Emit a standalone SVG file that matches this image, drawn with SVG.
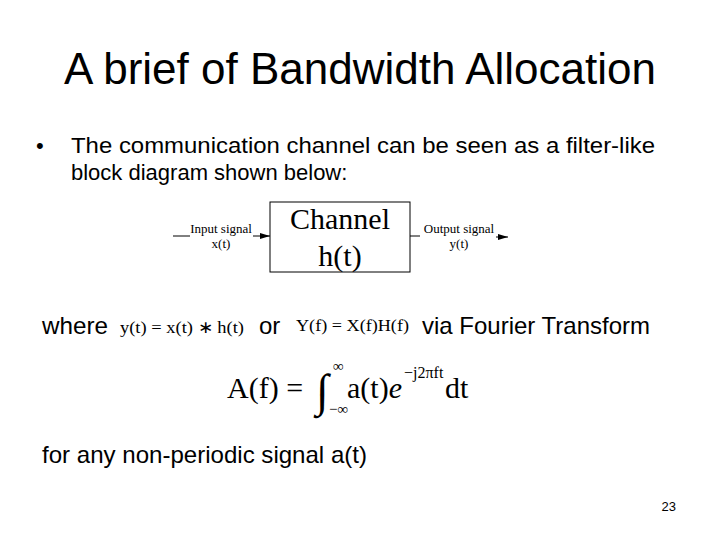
<svg xmlns="http://www.w3.org/2000/svg" width="720" height="540" viewBox="0 0 720 540">
<style>
.s{font-family:"Liberation Sans",Arial,sans-serif;fill:#000}
.m{font-family:"Liberation Serif","Times New Roman",serif;fill:#000}
</style>
<defs><marker id="a" markerWidth="10" markerHeight="6" refX="10" refY="3" orient="auto" markerUnits="userSpaceOnUse"><path d="M0,0 L10,3 L0,6z" fill="#000"/></marker></defs>
<rect width="720" height="540" fill="#fff"/>
<text class="s" x="360" y="84" font-size="44" text-anchor="middle">A brief of Bandwidth Allocation</text>
<text class="s" x="36" y="153" font-size="22">•</text>
<text class="s" x="71" y="153" font-size="22" textLength="584" lengthAdjust="spacingAndGlyphs">The communication channel can be seen as a filter-like</text>
<text class="s" x="71" y="180" font-size="22">block diagram shown below:</text>
<g id="channel"><rect x="270" y="202" width="140" height="70" fill="#fff" stroke="#000" stroke-width="1"/>
<text class="m" x="340" y="229" font-size="30" text-anchor="middle">Channel</text>
<text class="m" x="340" y="266" font-size="30" text-anchor="middle">h(t)</text></g>
<g id="input"><text class="m" x="221" y="233" font-size="13" text-anchor="middle">Input signal</text><text class="m" x="221" y="248" font-size="13" text-anchor="middle">x(t)</text></g>
<g id="output"><text class="m" x="459" y="233" font-size="13" text-anchor="middle">Output signal</text><text class="m" x="459" y="248" font-size="13" text-anchor="middle">y(t)</text></g>
<g id="connectors" stroke="#000" stroke-width="1" fill="none">
<line x1="173" y1="236" x2="190" y2="236"/><line x1="253" y1="236" x2="270" y2="236" marker-end="url(#a)"/>
<line x1="410" y1="236" x2="420" y2="236"/><line x1="496" y1="237" x2="508" y2="237" marker-end="url(#a)"/>
</g>
<text class="s" x="42" y="334" font-size="24" textLength="66" lengthAdjust="spacingAndGlyphs">where</text>
<text class="m" x="120" y="333" font-size="17" textLength="124" lengthAdjust="spacingAndGlyphs">y(t) = x(t) ∗ h(t)</text>
<text class="s" x="259" y="334" font-size="24">or</text>
<text class="m" x="296" y="331" font-size="17" textLength="113" lengthAdjust="spacingAndGlyphs">Y(f) = X(f)H(f)</text>
<text class="s" x="422" y="334" font-size="24" textLength="228" lengthAdjust="spacingAndGlyphs">via Fourier Transform</text>
<text class="m" x="227" y="398" font-size="30">A(f) =</text>
<text class="m" x="316" y="406" font-size="46">∫</text>
<text class="m" x="333" y="371" font-size="15">∞</text>
<text class="m" x="329" y="414" font-size="15">−∞</text>
<text class="m" x="347" y="398" font-size="30">a(t)<tspan font-style="italic">e</tspan></text>
<text class="m" x="404" y="378" font-size="16">−j2πft</text>
<text class="m" x="445" y="398" font-size="30">dt</text>
<text class="s" x="42" y="463" font-size="24" textLength="325" lengthAdjust="spacingAndGlyphs">for any non-periodic signal a(t)</text>
<text class="s" x="676" y="511" font-size="13" text-anchor="end">23</text>
</svg>
